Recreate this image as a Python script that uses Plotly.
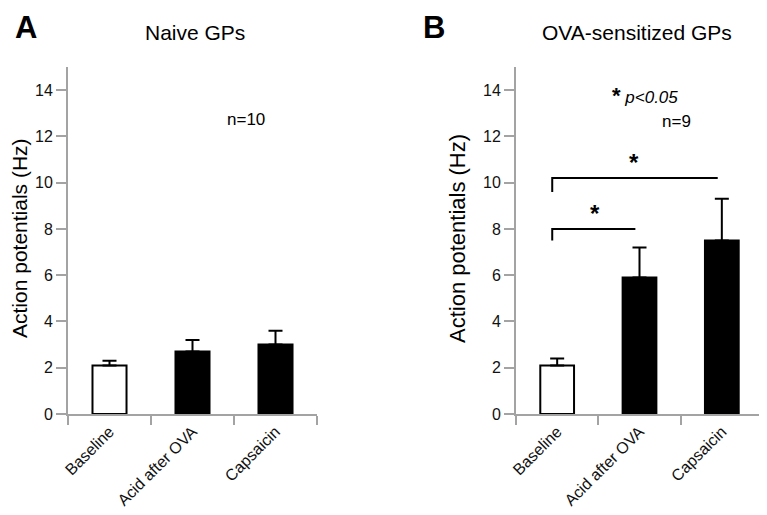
import plotly.graph_objects as go

categories = ["Baseline", "Acid after OVA", "Capsaicin"]
naive_means = [2.1, 2.7, 3.0]
naive_sem = [0.2, 0.5, 0.6]
ova_means = [2.1, 5.9, 7.5]
ova_sem = [0.3, 1.3, 1.8]
bar_colors = ["white", "black", "black"]
y_ticks = [0, 2, 4, 6, 8, 10, 12, 14]

# page body has an 8px margin; figure sized to fit inside the window
OFF = 8
W, H = 767 - OFF, 515 - OFF
FONT = "Arial, Liberation Sans, sans-serif"
AX = "#a3a3a3"

def px(x):
    return (x - OFF) / W

def py(y):
    return 1 - (y - OFF) / H

fig = go.Figure()
for i, (means, sem) in enumerate([(naive_means, naive_sem), (ova_means, ova_sem)]):
    suffix = "" if i == 0 else "2"
    fig.add_trace(go.Bar(
        x=categories, y=means, width=0.41,
        marker=dict(color=bar_colors, line=dict(color="black", width=2)),
        error_y=dict(type="data", symmetric=False, array=sem, arrayminus=[0] * len(sem),
                     color="black", thickness=2, width=7),
        xaxis="x" + suffix, yaxis="y" + suffix, showlegend=False,
    ))

xcommon = dict(type="category", range=[-0.5, 2.5], tickson="boundaries", ticks="outside",
               ticklen=9, tickwidth=2, tickcolor=AX, showline=True, linecolor=AX, linewidth=2,
               tickangle=-45, tickfont=dict(family=FONT, size=16, color="#111"), showgrid=False,
               automargin=False)
ycommon = dict(range=[0, 15], tickvals=y_ticks, ticks="outside", ticklen=10, tickwidth=2,
               tickcolor=AX, showline=True, linecolor=AX, linewidth=2, showgrid=False,
               zeroline=False, tickfont=dict(family=FONT, size=16, color="#111"),
               automargin=False)

ydom = [py(414), py(67)]
fig.update_layout(
    width=W, height=H, margin=dict(l=0, r=0, t=0, b=0, autoexpand=False),
    paper_bgcolor="white", plot_bgcolor="white",
    font=dict(family=FONT, color="#111"),
    xaxis=dict(domain=[px(68), px(317)], anchor="y", **xcommon),
    yaxis=dict(domain=ydom, anchor="x", **ycommon),
    xaxis2=dict(domain=[px(516), px(763)], anchor="y2", **xcommon),
    yaxis2=dict(domain=ydom, anchor="x2", **ycommon),
    bargap=0.59,
)

line = dict(color="black", width=2)
shapes = []
for (x0, x1, yh, yd) in [(-0.06, 0.95, 8.0, 7.5), (-0.06, 1.95, 10.2, 9.6)]:
    shapes.append(dict(type="path", xref="x2", yref="y2",
                       path=f"M {x0} {yd} L {x0} {yh} L {x1} {yh}", line=line))
fig.update_layout(shapes=shapes)

def note(text, x, y, size, angle=0, yanchor="middle"):
    return dict(text=text, x=px(x), y=py(y), xref="paper", yref="paper",
                xanchor="center", yanchor=yanchor, textangle=angle, borderpad=0,
                showarrow=False, font=dict(size=size, family=FONT, color="black"))

ann = [
    note("<b>A</b>", 26, 8.5, 31, yanchor="top"),
    note("<b>B</b>", 434, 8.5, 31, yanchor="top"),
    note("Naive GPs", 195, 32, 21),
    note("OVA-sensitized GPs", 637, 32, 21),
    note("Action potentials (Hz)", 19, 238, 21, -90),
    note("Action potentials (Hz)", 457, 238, 22, -90),
    note("n=10", 246, 119, 17),
    note("n=9", 676, 121, 17),
    note("<span style='font-size:22px'><b>*</b></span> <i>p&lt;0.05</i>", 645, 95, 17),
]
for (xs, ys) in [(0.46, 8.0), (0.93, 10.2)]:
    ann.append(dict(text="<b>*</b>", x=xs, y=ys, xref="x2", yref="y2", yanchor="bottom",
                    xanchor="center", showarrow=False,
                    font=dict(size=24, family=FONT, color="black")))
fig.update_layout(annotations=ann)

fig.write_html("out.html")
